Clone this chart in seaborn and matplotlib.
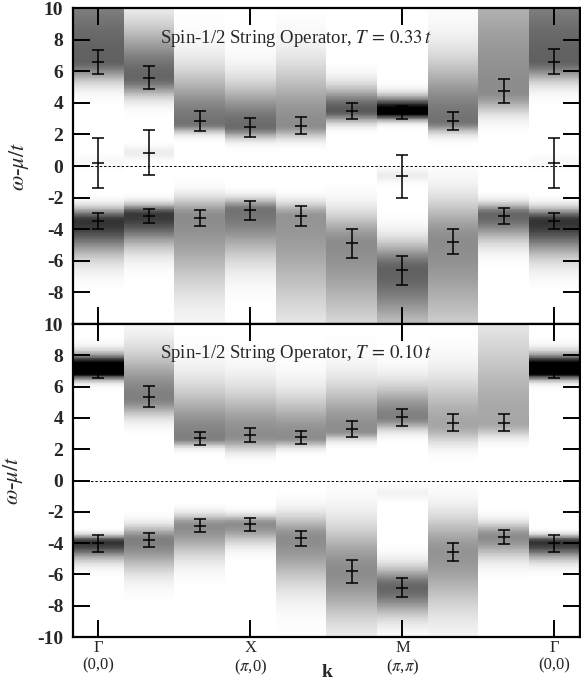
import numpy as np
import pandas as pd
import matplotlib
matplotlib.use("Agg")
import matplotlib.pyplot as plt
import seaborn as sns

# ---------------- data ----------------
k_labels = ["\u0393\n(0,0)", "X\n($\\pi$,0)", "M\n($\\pi$,$\\pi$)", "\u0393\n(0,0)"]
k_label_cols = [0, 3, 6, 9]
n_cols = 10

# T = 0.33 t : error bars (centre, half width)
top_hi_center = [6.6, 5.6, 2.85, 2.45, 2.55, 3.5, 3.4, 2.85, 4.75, 6.6]
top_hi_err = [0.75, 0.75, 0.65, 0.6, 0.55, 0.5, 0.42, 0.57, 0.75, 0.78]
top_lo_center = [-3.5, -3.15, -3.3, -2.8, -3.15, -4.9, -6.6, -4.8, -3.15, -3.5]
top_lo_err = [0.5, 0.45, 0.5, 0.6, 0.62, 0.9, 0.9, 0.8, 0.5, 0.5]
top_mid_cols = [0, 1, 6, 9]
top_mid_center = [0.2, 0.85, -0.65, 0.2]
top_mid_err = [1.6, 1.4, 1.35, 1.6]

# T = 0.10 t : error bars
bot_hi_center = [7.0, 5.35, 2.7, 2.88, 2.75, 3.3, 4.05, 3.7, 3.7, 7.0]
bot_hi_err = [0.45, 0.68, 0.4, 0.45, 0.4, 0.5, 0.55, 0.55, 0.55, 0.45]
bot_lo_center = [-4.0, -3.8, -2.9, -2.8, -3.7, -5.8, -6.85, -4.57, -3.6, -4.0]
bot_lo_err = [0.55, 0.47, 0.42, 0.43, 0.5, 0.75, 0.6, 0.58, 0.43, 0.55]

# spectral bands (peak, weight, width above, width below) read from the shading
top_up_pos = [6.7, 5.6, 2.7, 2.5, 2.6, 3.5, 3.45, 2.85, 4.7, 6.7]
top_up_amp = [0.62, 0.6, 0.55, 0.58, 0.45, 0.65, 1.1, 0.55, 0.45, 0.62]
top_up_whi = [5.0, 2.2, 2.2, 1.8, 2.5, 1.0, 0.6, 2.6, 6.0, 5.0]
top_up_wlo = [0.9, 0.8, 0.4, 0.5, 0.55, 0.5, 0.35, 0.5, 0.9, 0.9]
top_dn_pos = [-3.5, -3.1, -3.2, -2.8, -3.2, -4.9, -6.6, -4.8, -3.1, -3.5]
top_dn_amp = [0.8, 0.78, 0.45, 0.55, 0.42, 0.45, 0.62, 0.45, 0.6, 0.8]
top_dn_whi = [0.55, 0.45, 0.8, 0.5, 0.6, 1.3, 1.2, 1.8, 0.5, 0.55]
top_dn_wlo = [1.4, 1.3, 3.0, 2.0, 4.0, 3.5, 2.5, 4.0, 1.1, 1.4]
top_md_pos = [0.2, 0.85, 0.0, 0.0, 0.0, 0.0, -0.6, 0.0, 0.0, 0.2]
top_md_amp = [0.03, 0.07, 0.0, 0.0, 0.0, 0.0, 0.07, 0.0, 0.0, 0.03]

bot_up_pos = [7.1, 5.3, 2.7, 2.85, 2.75, 3.2, 4.05, 3.6, 3.7, 7.1]
bot_up_amp = [1.35, 0.5, 0.5, 0.45, 0.45, 0.45, 0.5, 0.35, 0.35, 1.35]
bot_up_whi = [0.6, 2.0, 2.2, 2.0, 1.8, 2.0, 1.4, 2.0, 4.0, 0.6]
bot_up_wlo = [0.4, 0.8, 0.35, 0.6, 0.4, 0.4, 0.55, 0.8, 0.6, 0.4]
bot_dn_pos = [-3.95, -3.8, -2.9, -2.8, -3.7, -5.8, -6.85, -4.6, -3.6, -3.95]
bot_dn_amp = [0.8, 0.5, 0.45, 0.45, 0.45, 0.45, 0.6, 0.42, 0.45, 0.8]
bot_dn_whi = [0.3, 0.6, 0.5, 0.4, 1.0, 2.0, 0.9, 1.6, 0.6, 0.3]
bot_dn_wlo = [0.7, 1.3, 1.3, 0.8, 2.0, 2.2, 1.2, 2.5, 0.9, 0.7]
bot_md_pos = [0.0, 0.0, 0.0, 0.0, 0.0, 0.0, -0.8, 0.0, 0.0, 0.0]
bot_md_amp = [0.0, 0.0, 0.0, 0.0, 0.0, 0.0, 0.05, 0.0, 0.0, 0.0]

y_ticks = [10, 8, 6, 4, 2, 0, -2, -4, -6, -8, -10]
W_MAX, W_MIN, N_ROWS = 10.0, -10.0, 400
MID_WIDTH = 0.3

# ---------------- helpers ----------------
d_w = (W_MAX - W_MIN) / N_ROWS
omega = W_MAX - (np.arange(N_ROWS) + 0.5) * d_w


def band(pos, amp, whi, wlo):
    s = np.where(omega > pos, whi, wlo)
    return amp * np.exp(-0.5 * ((omega - pos) / s) ** 2)


def spectral_table(up, dn, md):
    cols = {}
    for j in range(n_cols):
        a = band(up[0][j], up[1][j], up[2][j], up[3][j])
        a = a + band(dn[0][j], dn[1][j], dn[2][j], dn[3][j])
        a = a + band(md[0][j], md[1][j], MID_WIDTH, MID_WIDTH)
        cols[j] = np.clip(a, 0, 1)
    return pd.DataFrame(cols, index=np.round(omega, 3))


def to_row(w):
    return (W_MAX - np.asarray(w, dtype=float)) / d_w


# ---------------- style ----------------
sns.set_style("ticks")
plt.rcParams["font.family"] = ["Liberation Serif", "DejaVu Serif"]
plt.rcParams["mathtext.fontset"] = "stix"

fig = plt.figure(figsize=(5.81, 6.85), dpi=100)
ax1 = fig.add_axes([0.1256, 0.527, 0.8724, 0.4613])
ax2 = fig.add_axes([0.1256, 0.070, 0.8724, 0.457])

panels = [
    (ax1, spectral_table((top_up_pos, top_up_amp, top_up_whi, top_up_wlo),
                         (top_dn_pos, top_dn_amp, top_dn_whi, top_dn_wlo),
                         (top_md_pos, top_md_amp)),
     [(top_hi_center, top_hi_err, list(range(n_cols))),
      (top_lo_center, top_lo_err, list(range(n_cols))),
      (top_mid_center, top_mid_err, top_mid_cols)],
     r"Spin-1/2 String Operator, $T\,=\,0.33\,t$", True),
    (ax2, spectral_table((bot_up_pos, bot_up_amp, bot_up_whi, bot_up_wlo),
                         (bot_dn_pos, bot_dn_amp, bot_dn_whi, bot_dn_wlo),
                         (bot_md_pos, bot_md_amp)),
     [(bot_hi_center, bot_hi_err, list(range(n_cols))),
      (bot_lo_center, bot_lo_err, list(range(n_cols)))],
     r"Spin-1/2 String Operator, $T\,=\,0.10\,t$", False),
]

for ax, table, bars, title, is_top in panels:
    sns.heatmap(table, ax=ax, cmap="gray_r", vmin=0, vmax=1, cbar=False,
                xticklabels=False, yticklabels=False, rasterized=True)
    ax.set_axisbelow(False)
    for centers, errs, cols in bars:
        ax.errorbar(np.asarray(cols) + 0.5, to_row(centers),
                    yerr=np.asarray(errs) / d_w, fmt="_", color="black",
                    ecolor="black", elinewidth=1.1, capsize=4.5,
                    capthick=1.1, markersize=9, markeredgewidth=1.1,
                    zorder=5)
    ax.axhline(to_row(0.0), color="black", lw=0.7, ls=(0, (2.5, 2)),
               zorder=4)
    ax.set_xlim(0, n_cols)
    ax.set_ylim(N_ROWS, 0)
    for s in ax.spines.values():
        s.set_visible(True)
        s.set_color("black")
        s.set_linewidth(1.6)
        s.set_zorder(7)
    ax.set_yticks(to_row(y_ticks))
    labels = [str(v) for v in y_ticks]
    if is_top:
        labels[-1] = ""
    ax.set_yticklabels(labels, fontsize=14, fontweight="bold")
    ax.set_xticks(np.asarray(k_label_cols) + 0.5)
    if is_top:
        ax.set_xticklabels([])
    else:
        ax.set_xticklabels(k_labels, fontsize=12, linespacing=1.15)
    ax.tick_params(axis="both", direction="in", length=12, width=1.4,
                   left=True, right=True, top=True, bottom=True,
                   labelleft=True, labelright=False, color="black")
    ax.tick_params(axis="y", pad=7)
    ax.tick_params(axis="x", pad=2)
    ax.set_ylabel(r"$\omega$-$\mu/t$", fontsize=16, labelpad=9)
    ax.text(0.172, 0.89, title, transform=ax.transAxes, fontsize=13.5,
            ha="left", va="baseline", zorder=6)

ax1.set_xlabel("")
ax2.set_xlabel("k", fontsize=14, fontweight="bold", va="top")
ax2.xaxis.set_label_coords(327 / 581, 1 - 664 / 685, transform=fig.transFigure)

fig.savefig("out.png", dpi=100)
